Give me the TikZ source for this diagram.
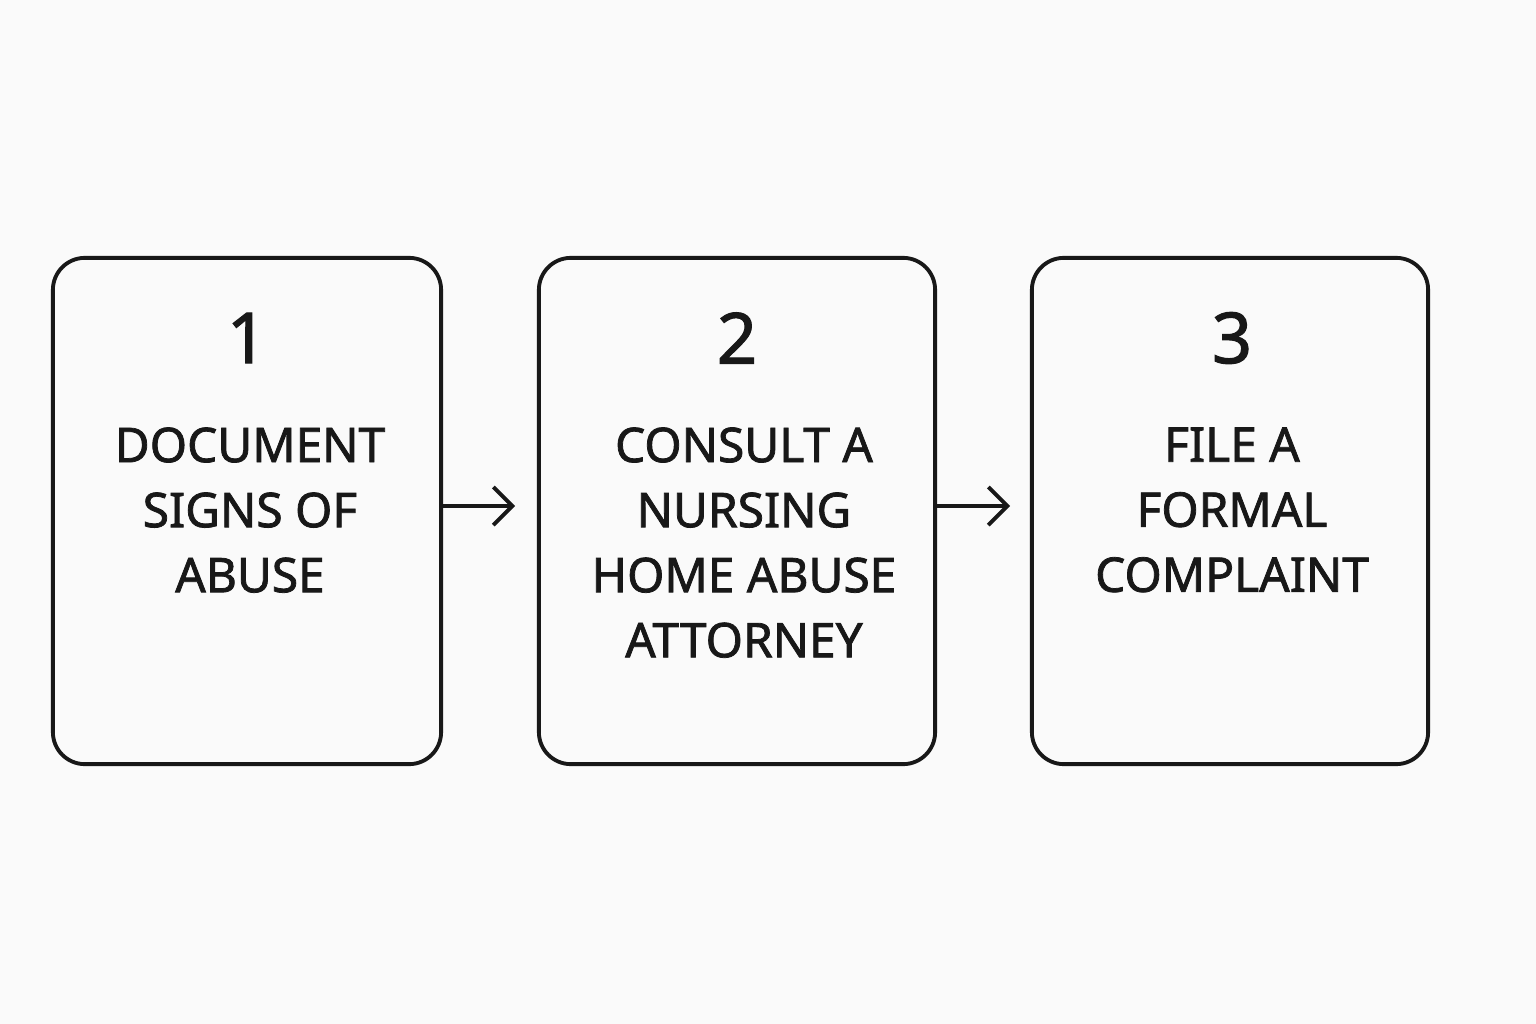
\documentclass[tikz,border=0pt]{standalone}
\usepackage{fontspec}
\setmainfont{Noto Sans}[BoldFont={Noto Sans}, BoldFeatures={FakeBold=1.6}]
\usepackage{tikz}
\usetikzlibrary{arrows.meta}
\definecolor{ink}{RGB}{24,24,24}
\definecolor{paper}{RGB}{250,250,250}

\begin{document}
\begin{tikzpicture}[x=0.01cm,y=-0.01cm,
    stepbox/.style={draw=ink, line width=1.1pt, rounded corners=0.32cm, minimum height=5.06cm},
    stepnum/.style={text=ink, font=\bfseries\fontsize{20}{24}\selectfont},
    steptext/.style={text=ink, align=center, anchor=north, font=\bfseries\fontsize{13.6}{18.5}\selectfont},
    flow/.style={draw=ink, line width=1.1pt, -{Straight Barb[length=0.19cm, width=0.38cm, line width=1.1pt]}}]
            \fill[paper] (0,0) rectangle (1536,1024);
            \useasboundingbox (0,0) rectangle (1536,1024);
            % boxes
            \node[stepbox, minimum width=3.88cm] (box1) at (247,511) {};
            \node[stepbox, minimum width=3.96cm] (box2) at (737,511) {};
            \node[stepbox, minimum width=3.96cm] (box3) at (1230,511) {};
            % numbers
            \node[stepnum] (num1) at (247,338) {1};
            \node[stepnum] (num2) at (737,338) {2};
            \node[stepnum] (num3) at (1232,338) {3};
            % labels
            \node[steptext] (text1) at (250,415) {DOCUMENT\\SIGNS OF\\ABUSE};
            \node[steptext] (text2) at (744,415) {CONSULT A\\NURSING\\HOME ABUSE\\ATTORNEY};
            \node[steptext] (text3) at (1232,415) {FILE A\\FORMAL\\COMPLAINT};
            % arrows
            \coordinate (tip1) at (515,506);
            \coordinate (tip2) at (1010,506);
            \draw[flow] (box1.east |- tip1) -- (tip1);
            \draw[flow] (box2.east |- tip2) -- (tip2);
        \end{tikzpicture}
\end{document}
